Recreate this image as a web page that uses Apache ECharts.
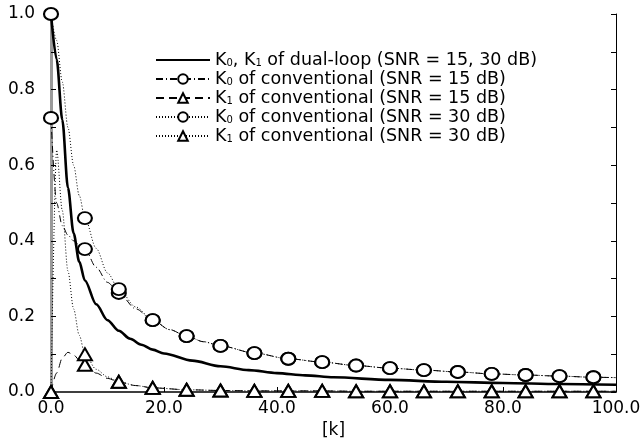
<!DOCTYPE html>
<html>
<head>
<meta charset="utf-8">
<script src="https://cdn.jsdelivr.net/npm/echarts@6/dist/echarts.min.js"></script>
<style>
  html, body { margin: 0; padding: 0; background: #fff; }
  #chart { width: 642px; height: 438px; }
</style>
</head>
<body>
<div id="chart"></div>
<script>
// marker positions (every 6th k)
var markerK = [0, 6, 12, 18, 24, 30, 36, 42, 48, 54, 60, 66, 72, 78, 84, 90, 96];

// K0, K1 of dual-loop (SNR = 15, 30 dB)
var dualK = [0, 1, 2, 3, 4, 5, 6, 8, 10, 12, 14, 16, 18, 20, 25, 30, 35, 40, 45, 50, 60, 70, 80, 90, 100];
var dualV = [1.0, 0.88, 0.72, 0.54, 0.42, 0.345, 0.295, 0.232, 0.19, 0.162, 0.141, 0.125, 0.112, 0.102, 0.083, 0.068, 0.058, 0.05, 0.044, 0.039, 0.032, 0.027, 0.024, 0.021, 0.019];

// K0 of conventional (SNR = 15 dB)
var k0c15K = [0, 1, 2, 3, 4, 5, 6, 8, 10, 12, 15, 18, 21, 24, 27, 30, 36, 42, 48, 54, 60, 66, 72, 78, 84, 90, 96, 100];
var k0c15V = [0.725, 0.50, 0.44, 0.415, 0.40, 0.39, 0.378, 0.33, 0.29, 0.262, 0.22, 0.19, 0.165, 0.148, 0.133, 0.122, 0.103, 0.088, 0.079, 0.07, 0.063, 0.058, 0.053, 0.048, 0.045, 0.042, 0.039, 0.038];

// K1 of conventional (SNR = 15 dB)
var k1c15K = [0, 1, 2, 3, 4, 5, 6, 8, 10, 12, 15, 18, 24, 30, 36, 42, 48, 54, 60, 66, 72, 78, 84, 90, 96, 100];
var k1c15V = [0, 0.05, 0.09, 0.105, 0.098, 0.085, 0.072, 0.05, 0.036, 0.027, 0.017, 0.011, 0.006, 0.004, 0.003, 0.003, 0.003, 0.002, 0.002, 0.002, 0.002, 0.002, 0.002, 0.002, 0.002, 0.002];

// K0 of conventional (SNR = 30 dB)
var k0c30K = [0, 1, 2, 3, 4, 5, 6, 8, 10, 12, 15, 18, 21, 24, 27, 30, 36, 42, 48, 54, 60, 66, 72, 78, 84, 90, 96, 100];
var k0c30V = [1.0, 0.93, 0.82, 0.70, 0.60, 0.52, 0.46, 0.38, 0.315, 0.272, 0.225, 0.19, 0.165, 0.148, 0.133, 0.122, 0.103, 0.088, 0.079, 0.07, 0.063, 0.058, 0.053, 0.048, 0.045, 0.042, 0.039, 0.038];

// K1 of conventional (SNR = 30 dB)
var k1c30K = [0, 1, 2, 3, 4, 5, 6, 8, 10, 12, 15, 18, 24, 30, 36, 42, 48, 54, 60, 66, 72, 78, 84, 90, 96, 100];
var k1c30V = [0, 0.64, 0.48, 0.32, 0.22, 0.15, 0.10, 0.06, 0.04, 0.027, 0.017, 0.011, 0.006, 0.004, 0.003, 0.003, 0.003, 0.002, 0.002, 0.002, 0.002, 0.002, 0.002, 0.002, 0.002, 0.002];

var xTicks = [0, 20, 40, 60, 80, 100];

var FONT = 'DejaVu Sans';

function pts(ks, vs, withMarkers) {
    return ks.map(function (k, i) {
        var item = { value: [k, vs[i]] };
        if (!withMarkers || markerK.indexOf(k) < 0) item.symbol = 'none';
        return item;
    });
}

var labelRich = {
    s: { fontSize: 10, fontFamily: FONT, color: '#000', padding: [7, 0, 0, 0] },
    t: { fontSize: 17.5, fontFamily: FONT, color: '#000' }
};

var legendText = {
    dual: '{t|K}{s|0}{t|, K}{s|1}{t| of dual-loop (SNR = 15, 30 dB)}',
    c0_15: '{t|K}{s|0}{t| of conventional (SNR = 15 dB)}',
    c1_15: '{t|K}{s|1}{t| of conventional (SNR = 15 dB)}',
    c0_30: '{t|K}{s|0}{t| of conventional (SNR = 30 dB)}',
    c1_30: '{t|K}{s|1}{t| of conventional (SNR = 30 dB)}'
};

function lineSeries(name, data, lineType, width, symbol) {
    return {
        name: name,
        type: 'line',
        data: data,
        smooth: 0.3,
        smoothMonotone: 'x',
        symbol: symbol,
        symbolSize: [14, 12],
        showAllSymbol: true,
        animation: false,
        lineStyle: { color: '#000', width: width, type: lineType },
        itemStyle: { color: '#000', borderColor: '#000', borderWidth: 0.8 }
    };
}

var chart = echarts.init(document.getElementById('chart'));
chart.setOption({
    backgroundColor: '#fff',
    animation: false,
    grid: { left: 51, right: 26, top: 14, bottom: 46, outerBoundsMode: 'none', containLabel: false },
    legend: {
        left: 150,
        top: 46,
        orient: 'vertical',
        itemWidth: 54,
        itemHeight: 12,
        itemGap: 1,
        data: [
            { name: 'dual', itemStyle: { opacity: 0 } },
            'c0_15', 'c1_15', 'c0_30', 'c1_30'
        ],
        formatter: function (n) { return legendText[n]; },
        textStyle: { fontFamily: FONT, fontSize: 17.5, color: '#000', rich: labelRich }
    },
    xAxis: {
        type: 'value',
        min: 0,
        max: 100,
        interval: 20,
        name: '[k]',
        nameLocation: 'middle',
        nameGap: 29,
        nameTextStyle: { fontFamily: FONT, fontSize: 17, color: '#000' },
        axisLine: { lineStyle: { color: '#000', width: 1.5 } },
        axisTick: { inside: true, length: 5, lineStyle: { color: '#000' } },
        axisLabel: {
            fontFamily: FONT, fontSize: 17, color: '#000', margin: 8,
            formatter: function (v) { return xTicks.indexOf(v) >= 0 ? v.toFixed(1) : ''; }
        },
        splitLine: { show: false }
    },
    yAxis: [{
        type: 'value',
        min: 0,
        max: 1,
        interval: 0.2,
        axisLine: { show: true, lineStyle: { color: '#9a9a9a', width: 3 } },
        axisTick: { inside: true, length: 5, lineStyle: { color: '#000' } },
        minorTick: { show: true, splitNumber: 2, length: 5, lineStyle: { color: '#000' } },
        axisLabel: {
            fontFamily: FONT, fontSize: 17, color: '#000', margin: 16,
            formatter: function (v) { return v.toFixed(1); }
        },
        splitLine: { show: false }
    }, {
        type: 'value',
        position: 'right',
        min: 0,
        max: 1,
        interval: 0.2,
        axisLine: { show: true, lineStyle: { color: '#000', width: 1 } },
        axisTick: { inside: true, length: 5, lineStyle: { color: '#000' } },
        minorTick: { show: true, splitNumber: 2, length: 5, lineStyle: { color: '#000' } },
        axisLabel: { show: false },
        splitLine: { show: false }
    }],
    series: [
        lineSeries('dual', pts(dualK, dualV, false), 'solid', 2.6, 'none'),
        lineSeries('c0_15', pts(k0c15K, k0c15V, true), [7, 3, 1, 3], 1, 'emptyCircle'),
        lineSeries('c1_15', pts(k1c15K, k1c15V, true), [8, 5], 1, 'emptyTriangle'),
        lineSeries('c0_30', pts(k0c30K, k0c30V, true), [1, 2], 1, 'emptyCircle'),
        lineSeries('c1_30', pts(k1c30K, k1c30V, true), [1, 2], 1, 'emptyTriangle')
    ]
});
</script>
</body>
</html>
